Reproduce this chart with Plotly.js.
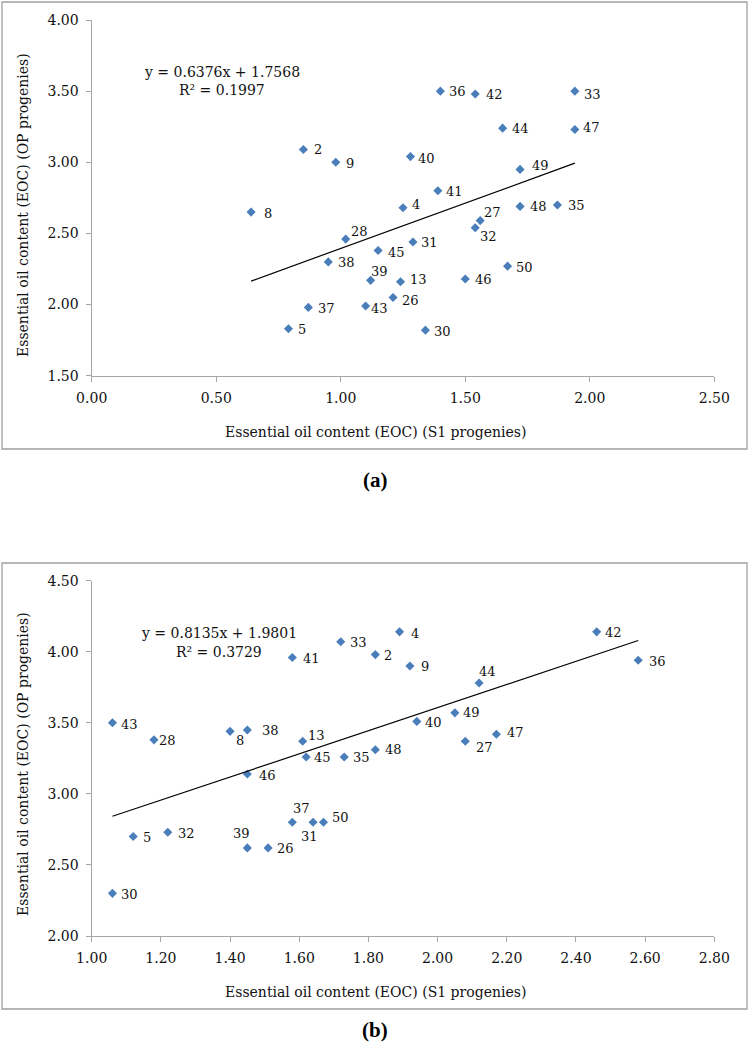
<!DOCTYPE html>
<html>
<head>
<meta charset="utf-8">
<script src="https://cdn.plot.ly/plotly-3.0.1.min.js"></script>
<style>html,body{margin:0;padding:0;background:#fff;}#chart{width:750px;height:1047px;}</style>
</head>
<body>
<div id="chart"></div>
<script>
// ---------- Data: panel (a) ----------
const labelsA = ['2','9','8','28','36','42','33','44','47','40','49','41','4','48','35','27','32','31','45','50','46','13','26','30','38','39','37','43','5'];
const s1A     = [0.85,0.98,0.64,1.02,1.40,1.54,1.94,1.65,1.94,1.28,1.72,1.39,1.25,1.72,1.87,1.56,1.54,1.29,1.15,1.67,1.50,1.24,1.21,1.34,0.95,1.12,0.87,1.10,0.79];
const opA     = [3.09,3.00,2.65,2.46,3.50,3.48,3.50,3.24,3.23,3.04,2.95,2.80,2.68,2.69,2.70,2.59,2.54,2.44,2.38,2.27,2.18,2.16,2.05,1.82,2.30,2.17,1.98,1.99,1.83];
const slopeA = 0.6376, interceptA = 1.7568, r2A = '0.1997';

// ---------- Data: panel (b) ----------
const labelsB = ['43','28','8','38','13','41','33','4','2','9','44','49','42','36','40','47','27','48','45','35','37','31','50','26','46','5','32','39','30'];
const s1B     = [1.06,1.18,1.40,1.45,1.61,1.58,1.72,1.89,1.82,1.92,2.12,2.05,2.46,2.58,1.94,2.17,2.08,1.82,1.62,1.73,1.58,1.64,1.67,1.51,1.45,1.12,1.22,1.45,1.06];
const opB     = [3.50,3.38,3.44,3.45,3.37,3.96,4.07,4.14,3.98,3.90,3.78,3.57,4.14,3.94,3.51,3.42,3.37,3.31,3.26,3.26,2.80,2.80,2.80,2.62,3.14,2.70,2.73,2.62,2.30];
const slopeB = 0.8135, interceptB = 1.9801, r2B = '0.3729';

// ---------- Label placement (pixel offsets of the label centre from its marker) ----------
const offA = {'2':[15,0],'9':[14,1],'8':[17,1],'28':[14,-8],'36':[17,0],'42':[19,1],'33':[18,3],'44':[18,0],'47':[17,-2],'40':[16,2],'49':[20,-4],'41':[17,1],'4':[13,-3],'48':[18,0],'35':[19,1],'27':[12,-8],'32':[13,9],'31':[17,1],'45':[18,2],'50':[17,1],'46':[18,1],'13':[18,-2],'26':[17,3],'30':[17,1],'38':[18,1],'39':[9,-9],'37':[18,1],'43':[14,3],'5':[14,1]};
const offB = {'43':[17,2],'28':[14,1],'8':[10,9],'38':[23,1],'13':[14,-6],'41':[19,1],'33':[18,1],'4':[15,2],'2':[13,1],'9':[15,1],'44':[8,-12],'49':[17,0],'42':[17,1],'36':[19,1],'40':[17,1],'47':[19,-2],'27':[19,6],'48':[18,0],'45':[16,1],'35':[17,1],'37':[9,-14],'31':[-4,14],'50':[17,-5],'26':[17,1],'46':[20,2],'5':[14,1],'32':[19,1],'39':[-6,-14],'30':[17,1]};

const W = 750, H = 1047;
const FONT = 'DejaVu Serif, Liberation Serif, serif';
const TXT = '#111111';
const AXC = '#a6a6a6';
const MC = '#4a7ebb';

function trend(xs, m, c) {
  const lo = Math.min(...xs), hi = Math.max(...xs);
  return {x: [lo, hi], y: [m*lo + c, m*hi + c]};
}
const tA = trend(s1A, slopeA, interceptA);
const tB = trend(s1B, slopeB, interceptB);

const traces = [
  {x: s1A, y: opA, type: 'scatter', mode: 'markers', xaxis: 'x', yaxis: 'y',
   marker: {symbol: 'diamond', size: 7, color: MC}},
  {x: tA.x, y: tA.y, type: 'scatter', mode: 'lines', xaxis: 'x', yaxis: 'y',
   line: {color: '#000', width: 1.2}},
  {x: s1B, y: opB, type: 'scatter', mode: 'markers', xaxis: 'x2', yaxis: 'y2',
   marker: {symbol: 'diamond', size: 7, color: MC}},
  {x: tB.x, y: tB.y, type: 'scatter', mode: 'lines', xaxis: 'x2', yaxis: 'y2',
   line: {color: '#000', width: 1.2}}
];

const ann = [];
function addLabels(labels, xs, ys, off, xr, yr) {
  labels.forEach((l, i) => {
    const o = off[l] || [16, 0];
    ann.push({x: xs[i], y: ys[i], xref: xr, yref: yr, text: l, showarrow: false,
      xanchor: 'center', yanchor: 'middle', xshift: o[0], yshift: -o[1],
      font: {family: FONT, size: 13, color: TXT}});
  });
}
addLabels(labelsA, s1A, opA, offA, 'x', 'y');
addLabels(labelsB, s1B, opB, offB, 'x2', 'y2');

function px(xp) { return xp / W; }
function py(yp) { return 1 - yp / H; }
function fmt(v) { return v.toFixed(4); }

function paperText(x, y, text, size, extra) {
  ann.push(Object.assign({x: px(x), y: py(y), xref: 'paper', yref: 'paper', text: text,
    showarrow: false, xanchor: 'center', yanchor: 'middle',
    font: {family: FONT, size: size, color: TXT}}, extra || {}));
}
// equations
paperText(222, 72, 'y = ' + fmt(slopeA) + 'x + ' + fmt(interceptA), 14);
paperText(222, 90, 'R² = ' + r2A, 14);
paperText(219, 633, 'y = ' + fmt(slopeB) + 'x + ' + fmt(interceptB), 14);
paperText(219, 652, 'R² = ' + r2B, 14);
// axis titles
paperText(375, 432, 'Essential oil content (EOC) (S1 progenies)', 14);
paperText(23, 205, 'Essential oil content (EOC) (OP progenies)', 14, {textangle: -90});
paperText(375, 992, 'Essential oil content (EOC) (S1 progenies)', 14);
paperText(23, 764, 'Essential oil content (EOC) (OP progenies)', 14, {textangle: -90});
// panel letters
paperText(375, 480, '<b>(a)</b>', 21, {font: {family: 'Liberation Serif, serif', size: 21, color: '#000'}});
paperText(375, 1030, '<b>(b)</b>', 21, {font: {family: 'Liberation Serif, serif', size: 21, color: '#000'}});

function axis(range, dtick, domain, anchor) {
  return {range: range, dtick: dtick, tick0: 0, tickformat: '.2f', domain: domain, anchor: anchor,
    showline: true, linecolor: AXC, linewidth: 1.2, ticks: 'outside', ticklen: 5, tickcolor: AXC,
    showgrid: false, zeroline: false, fixedrange: true, ticklabelstandoff: 4,
    tickfont: {family: FONT, size: 14, color: TXT}};
}
const xd = [91.7 / W, 714.3 / W];
const layout = {
  width: W, height: H, margin: {l: 0, r: 0, t: 0, b: 0},
  paper_bgcolor: '#fff', plot_bgcolor: '#fff', showlegend: false, hovermode: false,
  xaxis:  axis([0, 2.5], 0.5, xd, 'y'),
  yaxis:  axis([1.5, 4], 0.5, [1 - 375.7 / H, 1 - 20 / H], 'x'),
  xaxis2: axis([1, 2.8], 0.2, xd, 'y2'),
  yaxis2: axis([2, 4.5], 0.5, [1 - 936 / H, 1 - 580.7 / H], 'x2'),
  annotations: ann,
  shapes: [
    {type: 'rect', xref: 'paper', yref: 'paper', x0: px(2), x1: px(747), y0: py(449), y1: py(2),
     line: {color: '#a0a0a0', width: 1.3}},
    {type: 'rect', xref: 'paper', yref: 'paper', x0: px(2), x1: px(747), y0: py(1009), y1: py(563),
     line: {color: '#a0a0a0', width: 1.3}}
  ]
};
Plotly.newPlot('chart', traces, layout, {displayModeBar: false, staticPlot: true});
</script>
</body>
</html>
